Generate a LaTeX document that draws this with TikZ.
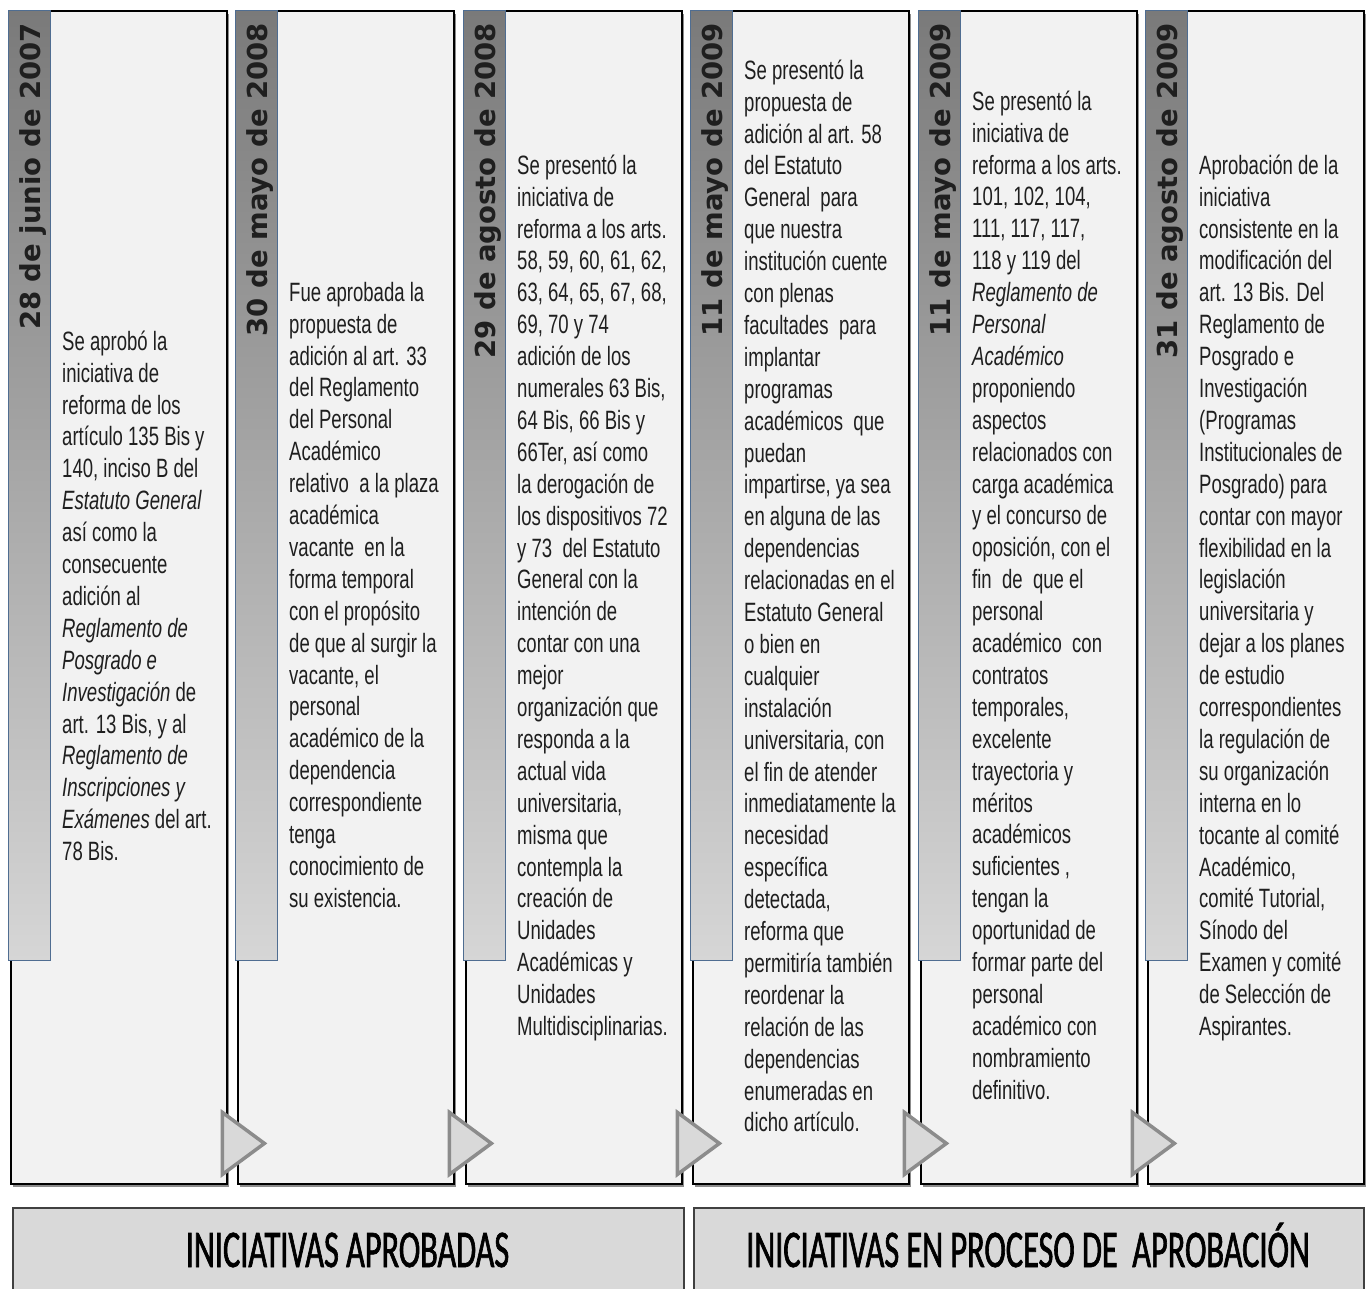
\documentclass[tikz,border=0pt]{standalone}
\usepackage{fontspec}
\usetikzlibrary{shadows,calc}
\newfontfamily\bodyfont[FakeStretch=0.7]{Liberation Sans}
\newfontfamily\datefont{DejaVu Sans}
\newfontfamily\labelfont[FakeStretch=0.61,FakeBold=1.2]{Carlito}
\definecolor{boxfill}{HTML}{F2F2F2}
\definecolor{hdrtop}{HTML}{7A7A7A}
\definecolor{hdrbot}{HTML}{D6D6D6}
\definecolor{hdrline}{HTML}{4F6D91}
\definecolor{trifill}{HTML}{D9D9D9}
\definecolor{triline}{HTML}{8C8C8C}
\definecolor{barfill}{HTML}{D9D9D9}
\definecolor{barline}{HTML}{404040}
\definecolor{txt}{HTML}{1F1F1F}
\tikzset{
  colbox/.style={draw=black, line width=2.4pt, fill=boxfill, minimum width=216pt,
    minimum height=1173pt, anchor=north west, inner sep=0pt,
    drop shadow={shadow xshift=2pt, shadow yshift=-3pt, opacity=0.45, fill=black}},
  hdrbar/.style={draw=hdrline, line width=1.2pt, top color=hdrtop, bottom color=hdrbot,
    minimum width=42pt, minimum height=950pt, anchor=north west, inner sep=0pt},
  datetxt/.style={font=\datefont\bfseries\fontsize{27.5}{33}\selectfont, text=txt,
    rotate=90, anchor=base east, inner sep=0pt},
  bodytxt/.style={font=\bodyfont\fontsize{26.5}{31.9}\selectfont, text=txt, align=left,
    anchor=north west, inner sep=0pt},
  arrowtri/.style={fill=trifill, draw=triline, line width=3.5pt, line join=miter},
  basebar/.style={fill=barfill, draw=barline, line width=1.5pt, anchor=north west,
    minimum height=100pt, inner sep=0pt,
    drop shadow={shadow xshift=1pt, shadow yshift=-2pt, opacity=0.25, fill=black}},
  basetxt/.style={font=\labelfont\fontsize{53}{60}\selectfont, text=black, anchor=base, inner sep=0pt}
}
\begin{document}
\begin{tikzpicture}[x=1pt,y=-1pt]
\path[use as bounding box] (0,0) rectangle (1367,1289);
\clip (0,0) rectangle (1367,1289);
\fill[white] (0,0) rectangle (1367,1289);

% columns
\node[colbox] (c1) at (10,10) {};
\node[colbox] (c2) at (237,10) {};
\node[colbox] (c3) at (465,10) {};
\node[colbox] (c4) at (692,10) {};
\node[colbox] (c5) at (920,10) {};
\node[colbox] (c6) at (1147,10) {};

% header bars
\node[hdrbar] (h1) at (8,10) {};
\node[hdrbar] (h2) at (235,10) {};
\node[hdrbar] (h3) at (463,10) {};
\node[hdrbar] (h4) at (690,10) {};
\node[hdrbar] (h5) at (918,10) {};
\node[hdrbar] (h6) at (1145,10) {};

% dates
\node[datetxt] (d1) at (40,23) {28 de junio de 2007};
\node[datetxt] (d2) at (267,23) {30 de mayo de 2008};
\node[datetxt] (d3) at (495,23) {29 de agosto de 2008};
\node[datetxt] (d4) at (722,23) {11 de mayo de 2009};
\node[datetxt] (d5) at (950,23) {11 de mayo de 2009};
\node[datetxt] (d6) at (1177,23) {31 de agosto de 2009};

% body texts
\node[bodytxt] (t1) at (62,327.7) {\strut Se aprobó la\\
iniciativa de\\
reforma de los\\
artículo 135 Bis y\\
140, inciso B del\\
\textit{Estatuto General}\\
así como la\\
consecuente\\
adición al\\
\textit{Reglamento de}\\
\textit{Posgrado e}\\
\textit{Investigación} de\\
art. 13 Bis, y al\\
\textit{Reglamento de}\\
\textit{Inscripciones y}\\
\textit{Exámenes} del art.\\
78 Bis.};

\node[bodytxt] (t2) at (289,278.7) {\strut Fue aprobada la\\
propuesta de\\
adición al art. 33\\
del Reglamento\\
del Personal\\
Académico\\
relativo\ \ a la plaza\\
académica\\
vacante\ \ en la\\
forma temporal\\
con el propósito\\
de que al surgir la\\
vacante, el\\
personal\\
académico de la\\
dependencia\\
correspondiente\\
tenga\\
conocimiento de\\
su existencia.};

\node[bodytxt] (t3) at (517,151.7) {\strut Se presentó la\\
iniciativa de\\
reforma a los arts.\\
58, 59, 60, 61, 62,\\
63, 64, 65, 67, 68,\\
69, 70 y 74\\
adición de los\\
numerales 63 Bis,\\
64 Bis, 66 Bis y\\
66Ter, así como\\
la derogación de\\
los dispositivos 72\\
y 73\ \ del Estatuto\\
General con la\\
intención de\\
contar con una\\
mejor\\
organización que\\
responda a la\\
actual vida\\
universitaria,\\
misma que\\
contempla la\\
creación de\\
Unidades\\
Académicas y\\
Unidades\\
Multidisciplinarias.};

\node[bodytxt] (t4) at (744,56.7) {\strut Se presentó la\\
propuesta de\\
adición al art. 58\\
del Estatuto\\
General\ \ para\\
que nuestra\\
institución cuente\\
con plenas\\
facultades\ \ para\\
implantar\\
programas\\
académicos\ \ que\\
puedan\\
impartirse, ya sea\\
en alguna de las\\
dependencias\\
relacionadas en el\\
Estatuto General\\
o bien en\\
cualquier\\
instalación\\
universitaria, con\\
el fin de atender\\
inmediatamente la\\
necesidad\\
específica\\
detectada,\\
reforma que\\
permitiría también\\
reordenar la\\
relación de las\\
dependencias\\
enumeradas en\\
dicho artículo.};

\node[bodytxt] (t5) at (972,87.7) {\strut Se presentó la\\
iniciativa de\\
reforma a los arts.\\
101, 102, 104,\\
111, 117, 117,\\
118 y 119 del\\
\textit{Reglamento de}\\
\textit{Personal}\\
\textit{Académico}\\
proponiendo\\
aspectos\\
relacionados con\\
carga académica\\
y el concurso de\\
oposición, con el\\
fin\ \ de\ \ que el\\
personal\\
académico\ \ con\\
contratos\\
temporales,\\
excelente\\
trayectoria y\\
méritos\\
académicos\\
suficientes ,\\
tengan la\\
oportunidad de\\
formar parte del\\
personal\\
académico con\\
nombramiento\\
definitivo.};

\node[bodytxt] (t6) at (1199,151.7) {\strut Aprobación de la\\
iniciativa\\
consistente en la\\
modificación del\\
art. 13 Bis. Del\\
Reglamento de\\
Posgrado e\\
Investigación\\
(Programas\\
Institucionales de\\
Posgrado) para\\
contar con mayor\\
flexibilidad en la\\
legislación\\
universitaria y\\
dejar a los planes\\
de estudio\\
correspondientes\\
la regulación de\\
su organización\\
interna en lo\\
tocante al comité\\
Académico,\\
comité Tutorial,\\
Sínodo del\\
Examen y comité\\
de Selección de\\
Aspirantes.};

% connecting triangles
\foreach \c in {c1,c2,c3,c4,c5}{
  \draw[arrowtri] ($(\c.south east)+(-6,-73)$) -- ($(\c.south east)+(-6,-11)$)
    -- ($(\c.south east)+(36,-42)$) -- cycle;
}

% bottom bars
\node[basebar, minimum width=671pt] (b1) at (12,1207) {};
\node[basebar, minimum width=670pt] (b2) at (693,1207) {};
\node[basetxt] (l1) at (347.5,1267) {INICIATIVAS APROBADAS};
\node[basetxt] (l2) at (1028,1267) {INICIATIVAS EN PROCESO DE\ \ APROBACIÓN};
\end{tikzpicture}
\end{document}
